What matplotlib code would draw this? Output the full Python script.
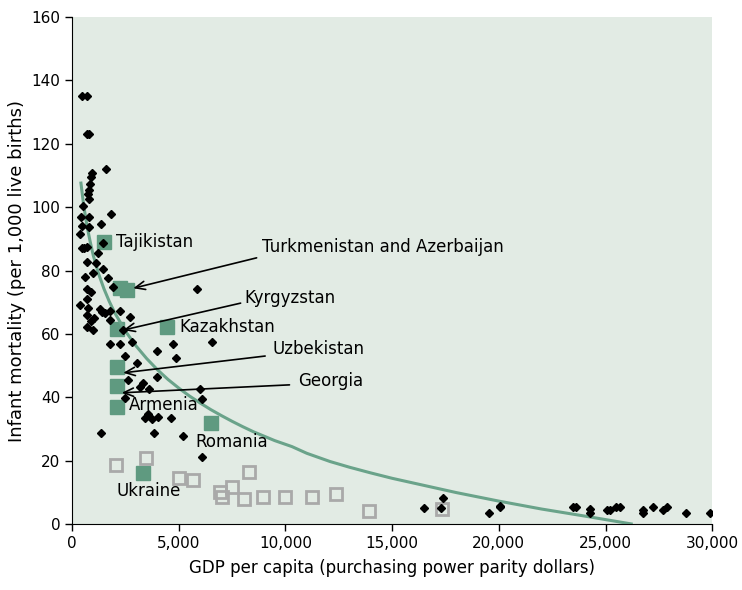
import matplotlib
matplotlib.use("Agg")
import matplotlib.pyplot as plt
from matplotlib.ticker import FuncFormatter

plt.rcParams['font.family'] = ['DejaVu Sans']

# other countries (black diamonds): GDP per capita, infant mortality
other_gdp = [455, 717, 720, 800, 1580, 922, 890, 830, 800, 740, 780, 500, 408, 1813,
             780, 455, 1360, 800, 375, 470, 560, 720, 1470, 1200, 1130, 717, 1000,
             1470, 610, 1700, 1936, 690, 900, 375, 717, 765, 1030, 900, 717, 688,
             1330, 1400, 1530, 1800, 2250, 1000, 1760, 2720, 2400, 2800, 1800, 2270,
             3970, 4750, 6550, 2480, 4875, 3030, 2640, 3970, 3340, 3190, 3620, 2480,
             6000, 6080, 3580, 3420, 3750, 4050, 4625, 1345, 3845, 5190, 6094, 5873,
             16470, 17280, 17375, 19515, 20060, 20060, 23470, 23600, 24250, 24250,
             25060, 25200, 25500, 25660, 26750, 26750, 27220, 27690, 27875, 28780, 29900]
other_imr = [135, 135, 123, 123, 112, 110.9, 109.6, 107.2, 105.4, 104.3, 102.6, 100.3, 97,
             97.8, 96.9, 94, 94.8, 93.8, 91.4, 87.1, 87.1, 87.5, 88.8, 85.4, 82.5, 82.8,
             79.1, 80.4, 78, 77.5, 74.9, 74.2, 73.3, 69.1, 70.9, 68.1, 64.9, 64.2, 62.1, 66,
             68, 67, 66.5, 67.3, 67.3, 61.2, 64.4, 65.2, 61.2, 57.5, 56.8, 56.8,
             54.6, 56.8, 57.5, 53, 52.3, 50.7, 45.4, 46.3, 44.4, 43.1, 42.5, 39.7,
             42.5, 39.4, 34.7, 33.4, 33, 33.9, 33.4, 28.6, 28.6, 27.9, 21, 74.2,
             4.9, 4.9, 8.1, 3.6, 5.3, 5.8, 5.3, 5.2, 4.6, 3.4,
             4.4, 4.4, 5.3, 5.3, 4.4, 3.6, 5.3, 4.4, 5.3, 3.6, 3.6]

# Central / Eastern Europe (grey open squares)
cee_gdp = [2060, 3470, 5030, 5690, 8300, 6940, 7020, 7515, 8060, 8970, 9985, 11235, 12360, 13935, 17330]
cee_imr = [18.6, 20.7, 14.4, 13.9, 16.3, 10.2, 8.6, 11.8, 7.8, 8.6, 8.6, 8.6, 9.4, 4.1, 4.6]

# highlighted countries (green squares)
hl_names = ['Tajikistan', 'Turkmenistan', 'Azerbaijan', 'Kyrgyzstan', 'Kazakhstan',
            'Uzbekistan', 'Georgia', 'Armenia', 'Romania', 'Ukraine']
hl_gdp = [1515, 2250, 2560, 2095, 4470, 2095, 2095, 2095, 6500, 3310]
hl_imr = [89.1, 74.4, 73.8, 61.4, 62.1, 49.6, 43.5, 36.8, 32, 16.2]

# trend line
trend_gdp = [420, 550, 700, 850, 1000, 1250, 1500, 1750, 2000, 2500, 3000, 3500, 4000,
             4500, 5000, 5500, 6000, 6500, 7000, 7500, 8000, 8500, 9000, 9500, 10310,
             11000, 12090, 13000, 14000, 15000, 16000, 18000, 20000, 22000, 24000, 26200]
trend_imr = [107.6, 100.5, 94.2, 89.2, 84.7, 78.9, 74.2, 70.2, 66.7, 60.9, 56.2, 52.2, 48.7,
             45.6, 42.9, 40.4, 38.2, 36.1, 34.2, 32.4, 30.7, 29.1, 27.7, 26.3, 24.4,
             22.3, 19.7, 17.9, 16.1, 14.4, 12.9, 9.9, 7.2, 4.7, 2.5, 0]

green = '#5f9a80'

fig = plt.figure(figsize=(7.42, 5.90), dpi=100)
ax = fig.add_axes([0.097, 0.112, 0.863, 0.859])
ax.set_facecolor('#e2ebe4')

ax.plot(hl_gdp, hl_imr, 's', color=green, markersize=9.5, zorder=2)
ax.plot(cee_gdp, cee_imr, 's', mfc='none', mec='#a9a9a9', mew=2, markersize=8.5, zorder=2)
ax.plot(trend_gdp, trend_imr, '-', color='#6aa38a', lw=2.2, zorder=3)
ax.plot(other_gdp, other_imr, 'D', color='black', markersize=4, zorder=4)

fs = 12
ax.text(2050, 89.1, 'Tajikistan', fontsize=fs, va='center', ha='left')
ax.text(5050, 62.1, 'Kazakhstan', fontsize=fs, va='center', ha='left')
ax.text(2650, 37.5, 'Armenia', fontsize=fs, va='center', ha='left')
ax.text(5800, 25.9, 'Romania', fontsize=fs, va='center', ha='left')
ax.text(2100, 10.4, 'Ukraine', fontsize=fs, va='center', ha='left')

arrows = [
    ('Turkmenistan and Azerbaijan', (8900, 87.4), (8650, 84.0), (2870, 74.4)),
    ('Kyrgyzstan', (8060, 71.3), (7900, 69.7), (2400, 61.2)),
    ('Uzbekistan', (9375, 55.2), (9050, 53.0), (2400, 47.7)),
    ('Georgia', (10600, 45.1), (10190, 43.9), (2330, 41.4)),
]
for label, tpos, tail, head in arrows:
    ax.text(tpos[0], tpos[1], label, fontsize=fs, va='center', ha='left')
    ax.annotate('', xy=head, xytext=tail,
                arrowprops=dict(arrowstyle='->,head_length=0.7,head_width=0.3',
                                color='black', lw=1.2, shrinkA=0, shrinkB=0),
                zorder=5)

ax.set_xlim(0, 30000)
ax.set_ylim(0, 160)
ax.set_xticks(range(0, 30001, 5000))
ax.set_yticks(range(0, 161, 20))
ax.xaxis.set_major_formatter(FuncFormatter(lambda v, p: f'{int(v):,}'))
ax.tick_params(labelsize=11, direction='out', length=5, width=1)
for s in ['top', 'right']:
    ax.spines[s].set_visible(False)
ax.set_xlabel('GDP per capita (purchasing power parity dollars)', fontsize=12, labelpad=6)
ax.set_ylabel('Infant mortality (per 1,000 live births)', fontsize=13, labelpad=4)

fig.savefig('out.png', dpi=100)
